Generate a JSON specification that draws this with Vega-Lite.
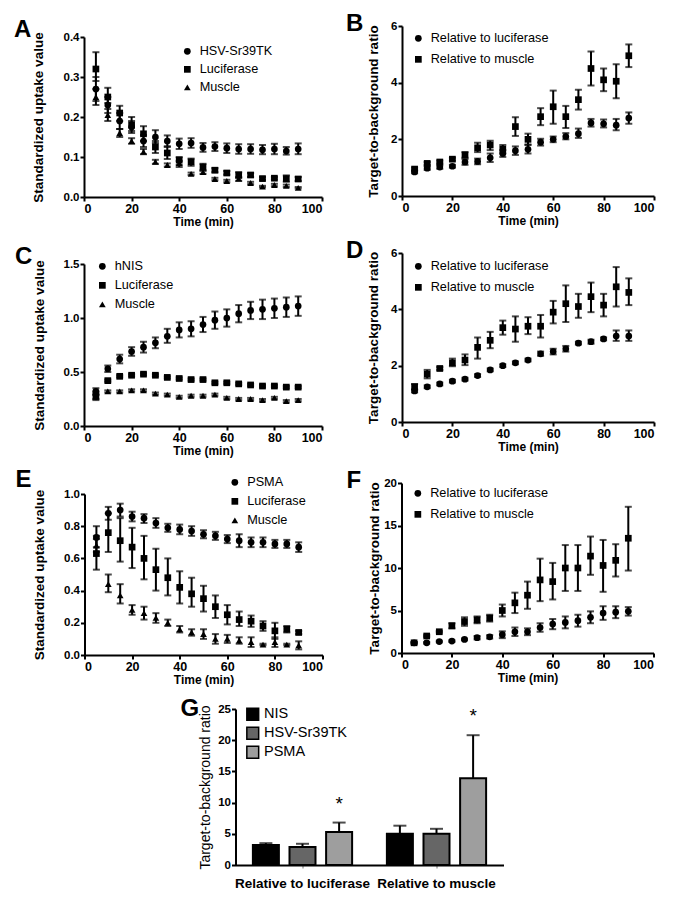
{
  "$schema": "https://vega.github.io/schema/vega-lite/v6.json",
  "background": "white",
  "padding": {"top": 12, "left": 14, "right": 5, "bottom": 5},
  "spacing": 11,
  "center": true,
  "resolve": {"scale": {"shape": "independent", "fill": "independent"}, "legend": {"shape": "independent", "fill": "independent"}},
  "datasets": {
    "A": [
      {"t":5,"s":"HSV-Sr39TK","v":0.27,"lo":0.24,"hi":0.30},{"t":10,"s":"HSV-Sr39TK","v":0.23,"lo":0.21,"hi":0.25},{"t":15,"s":"HSV-Sr39TK","v":0.19,"lo":0.17,"hi":0.21},{"t":20,"s":"HSV-Sr39TK","v":0.175,"lo":0.16,"hi":0.19},{"t":25,"s":"HSV-Sr39TK","v":0.14,"lo":0.125,"hi":0.155},{"t":30,"s":"HSV-Sr39TK","v":0.15,"lo":0.135,"hi":0.167},{"t":35,"s":"HSV-Sr39TK","v":0.14,"lo":0.127,"hi":0.154},{"t":40,"s":"HSV-Sr39TK","v":0.133,"lo":0.12,"hi":0.146},{"t":45,"s":"HSV-Sr39TK","v":0.135,"lo":0.123,"hi":0.147},{"t":50,"s":"HSV-Sr39TK","v":0.124,"lo":0.113,"hi":0.135},{"t":55,"s":"HSV-Sr39TK","v":0.126,"lo":0.115,"hi":0.137},{"t":60,"s":"HSV-Sr39TK","v":0.122,"lo":0.11,"hi":0.134},{"t":65,"s":"HSV-Sr39TK","v":0.12,"lo":0.108,"hi":0.132},{"t":70,"s":"HSV-Sr39TK","v":0.12,"lo":0.108,"hi":0.132},{"t":75,"s":"HSV-Sr39TK","v":0.118,"lo":0.107,"hi":0.13},{"t":80,"s":"HSV-Sr39TK","v":0.12,"lo":0.107,"hi":0.133},{"t":85,"s":"HSV-Sr39TK","v":0.115,"lo":0.106,"hi":0.125},{"t":90,"s":"HSV-Sr39TK","v":0.12,"lo":0.107,"hi":0.134},
      {"t":5,"s":"Luciferase","v":0.32,"lo":0.29,"hi":0.362},{"t":10,"s":"Luciferase","v":0.25,"lo":0.235,"hi":0.273},{"t":15,"s":"Luciferase","v":0.21,"lo":0.19,"hi":0.228},{"t":20,"s":"Luciferase","v":0.18,"lo":0.165,"hi":0.2},{"t":25,"s":"Luciferase","v":0.158,"lo":0.14,"hi":0.177},{"t":30,"s":"Luciferase","v":0.125,"lo":0.11,"hi":0.14},{"t":35,"s":"Luciferase","v":0.11,"lo":0.095,"hi":0.125},{"t":40,"s":"Luciferase","v":0.092,"lo":0.08,"hi":0.1},{"t":45,"s":"Luciferase","v":0.088,"lo":0.078,"hi":0.096},{"t":50,"s":"Luciferase","v":0.075,"lo":0.066,"hi":0.083},{"t":55,"s":"Luciferase","v":0.067,"lo":0.062,"hi":0.072},{"t":60,"s":"Luciferase","v":0.06,"lo":0.056,"hi":0.065},{"t":65,"s":"Luciferase","v":0.055,"lo":0.047,"hi":0.062},{"t":70,"s":"Luciferase","v":0.055,"lo":0.05,"hi":0.06},{"t":75,"s":"Luciferase","v":0.046,"lo":0.043,"hi":0.05},{"t":80,"s":"Luciferase","v":0.047,"lo":0.044,"hi":0.05},{"t":85,"s":"Luciferase","v":0.046,"lo":0.038,"hi":0.054},{"t":90,"s":"Luciferase","v":0.045,"lo":0.04,"hi":0.05},
      {"t":5,"s":"Muscle","v":0.25,"lo":0.23,"hi":0.27},{"t":10,"s":"Muscle","v":0.205,"lo":0.19,"hi":0.22},{"t":15,"s":"Muscle","v":0.16,"lo":0.15,"hi":0.17},{"t":20,"s":"Muscle","v":0.14,"lo":0.133,"hi":0.147},{"t":25,"s":"Muscle","v":0.113,"lo":0.107,"hi":0.12},{"t":30,"s":"Muscle","v":0.088,"lo":0.083,"hi":0.093},{"t":35,"s":"Muscle","v":0.08,"lo":0.076,"hi":0.084},{"t":40,"s":"Muscle","v":0.085,"lo":0.075,"hi":0.09},{"t":45,"s":"Muscle","v":0.058,"lo":0.055,"hi":0.061},{"t":50,"s":"Muscle","v":0.062,"lo":0.058,"hi":0.066},{"t":55,"s":"Muscle","v":0.045,"lo":0.042,"hi":0.048},{"t":60,"s":"Muscle","v":0.04,"lo":0.037,"hi":0.043},{"t":65,"s":"Muscle","v":0.046,"lo":0.04,"hi":0.05},{"t":70,"s":"Muscle","v":0.035,"lo":0.032,"hi":0.038},{"t":75,"s":"Muscle","v":0.026,"lo":0.024,"hi":0.028},{"t":80,"s":"Muscle","v":0.03,"lo":0.027,"hi":0.033},{"t":85,"s":"Muscle","v":0.028,"lo":0.025,"hi":0.031},{"t":90,"s":"Muscle","v":0.023,"lo":0.021,"hi":0.025}
    ],
    "B": [
      {"t":5,"s":"Relative to luciferase","v":0.85,"lo":0.8,"hi":0.9},{"t":10,"s":"Relative to luciferase","v":0.98,"lo":0.92,"hi":1.04},{"t":15,"s":"Relative to luciferase","v":1.02,"lo":0.96,"hi":1.08},{"t":20,"s":"Relative to luciferase","v":1.05,"lo":1.0,"hi":1.1},{"t":25,"s":"Relative to luciferase","v":1.2,"lo":1.1,"hi":1.3},{"t":30,"s":"Relative to luciferase","v":1.22,"lo":1.12,"hi":1.32},{"t":35,"s":"Relative to luciferase","v":1.35,"lo":1.2,"hi":1.5},{"t":40,"s":"Relative to luciferase","v":1.5,"lo":1.38,"hi":1.62},{"t":45,"s":"Relative to luciferase","v":1.6,"lo":1.45,"hi":1.75},{"t":50,"s":"Relative to luciferase","v":1.65,"lo":1.5,"hi":1.8},{"t":55,"s":"Relative to luciferase","v":1.9,"lo":1.78,"hi":2.02},{"t":60,"s":"Relative to luciferase","v":2.0,"lo":1.9,"hi":2.1},{"t":65,"s":"Relative to luciferase","v":2.1,"lo":2.0,"hi":2.22},{"t":70,"s":"Relative to luciferase","v":2.2,"lo":2.05,"hi":2.38},{"t":75,"s":"Relative to luciferase","v":2.58,"lo":2.45,"hi":2.72},{"t":80,"s":"Relative to luciferase","v":2.55,"lo":2.42,"hi":2.7},{"t":85,"s":"Relative to luciferase","v":2.5,"lo":2.32,"hi":2.72},{"t":90,"s":"Relative to luciferase","v":2.75,"lo":2.55,"hi":2.95},
      {"t":5,"s":"Relative to muscle","v":0.95,"lo":0.9,"hi":1.0},{"t":10,"s":"Relative to muscle","v":1.15,"lo":1.1,"hi":1.2},{"t":15,"s":"Relative to muscle","v":1.2,"lo":1.15,"hi":1.25},{"t":20,"s":"Relative to muscle","v":1.3,"lo":1.25,"hi":1.35},{"t":25,"s":"Relative to muscle","v":1.45,"lo":1.35,"hi":1.55},{"t":30,"s":"Relative to muscle","v":1.7,"lo":1.55,"hi":1.88},{"t":35,"s":"Relative to muscle","v":1.8,"lo":1.62,"hi":1.95},{"t":40,"s":"Relative to muscle","v":1.65,"lo":1.5,"hi":1.8},{"t":45,"s":"Relative to muscle","v":2.45,"lo":2.12,"hi":2.78},{"t":50,"s":"Relative to muscle","v":2.0,"lo":1.82,"hi":2.2},{"t":55,"s":"Relative to muscle","v":2.8,"lo":2.5,"hi":3.1},{"t":60,"s":"Relative to muscle","v":3.15,"lo":2.55,"hi":3.72},{"t":65,"s":"Relative to muscle","v":2.8,"lo":2.4,"hi":3.18},{"t":70,"s":"Relative to muscle","v":3.4,"lo":3.05,"hi":3.75},{"t":75,"s":"Relative to muscle","v":4.5,"lo":3.9,"hi":5.1},{"t":80,"s":"Relative to muscle","v":4.1,"lo":3.7,"hi":4.5},{"t":85,"s":"Relative to muscle","v":4.05,"lo":3.45,"hi":4.65},{"t":90,"s":"Relative to muscle","v":4.95,"lo":4.55,"hi":5.35}
    ],
    "C": [
      {"t":5,"s":"hNIS","v":0.32,"lo":0.29,"hi":0.35},{"t":10,"s":"hNIS","v":0.53,"lo":0.5,"hi":0.56},{"t":15,"s":"hNIS","v":0.62,"lo":0.58,"hi":0.66},{"t":20,"s":"hNIS","v":0.69,"lo":0.65,"hi":0.73},{"t":25,"s":"hNIS","v":0.73,"lo":0.68,"hi":0.78},{"t":30,"s":"hNIS","v":0.77,"lo":0.72,"hi":0.82},{"t":35,"s":"hNIS","v":0.83,"lo":0.77,"hi":0.9},{"t":40,"s":"hNIS","v":0.89,"lo":0.82,"hi":0.96},{"t":45,"s":"hNIS","v":0.9,"lo":0.83,"hi":0.97},{"t":50,"s":"hNIS","v":0.94,"lo":0.87,"hi":1.01},{"t":55,"s":"hNIS","v":0.98,"lo":0.9,"hi":1.06},{"t":60,"s":"hNIS","v":1.0,"lo":0.92,"hi":1.08},{"t":65,"s":"hNIS","v":1.04,"lo":0.96,"hi":1.12},{"t":70,"s":"hNIS","v":1.07,"lo":0.99,"hi":1.15},{"t":75,"s":"hNIS","v":1.08,"lo":0.99,"hi":1.17},{"t":80,"s":"hNIS","v":1.09,"lo":1.0,"hi":1.18},{"t":85,"s":"hNIS","v":1.1,"lo":1.01,"hi":1.19},{"t":90,"s":"hNIS","v":1.11,"lo":1.02,"hi":1.2},
      {"t":5,"s":"Luciferase","v":0.28,"lo":0.24,"hi":0.32},{"t":10,"s":"Luciferase","v":0.42,"lo":0.41,"hi":0.43},{"t":15,"s":"Luciferase","v":0.46,"lo":0.45,"hi":0.47},{"t":20,"s":"Luciferase","v":0.47,"lo":0.46,"hi":0.48},{"t":25,"s":"Luciferase","v":0.48,"lo":0.47,"hi":0.49},{"t":30,"s":"Luciferase","v":0.47,"lo":0.46,"hi":0.48},{"t":35,"s":"Luciferase","v":0.45,"lo":0.44,"hi":0.46},{"t":40,"s":"Luciferase","v":0.44,"lo":0.43,"hi":0.45},{"t":45,"s":"Luciferase","v":0.43,"lo":0.42,"hi":0.44},{"t":50,"s":"Luciferase","v":0.43,"lo":0.42,"hi":0.44},{"t":55,"s":"Luciferase","v":0.4,"lo":0.39,"hi":0.41},{"t":60,"s":"Luciferase","v":0.4,"lo":0.39,"hi":0.41},{"t":65,"s":"Luciferase","v":0.39,"lo":0.38,"hi":0.4},{"t":70,"s":"Luciferase","v":0.38,"lo":0.37,"hi":0.39},{"t":75,"s":"Luciferase","v":0.37,"lo":0.36,"hi":0.38},{"t":80,"s":"Luciferase","v":0.37,"lo":0.36,"hi":0.38},{"t":85,"s":"Luciferase","v":0.36,"lo":0.35,"hi":0.37},{"t":90,"s":"Luciferase","v":0.36,"lo":0.35,"hi":0.37},
      {"t":5,"s":"Muscle","v":0.27,"lo":0.25,"hi":0.29},{"t":10,"s":"Muscle","v":0.32,"lo":0.31,"hi":0.33},{"t":15,"s":"Muscle","v":0.32,"lo":0.31,"hi":0.33},{"t":20,"s":"Muscle","v":0.33,"lo":0.32,"hi":0.34},{"t":25,"s":"Muscle","v":0.33,"lo":0.32,"hi":0.34},{"t":30,"s":"Muscle","v":0.3,"lo":0.29,"hi":0.31},{"t":35,"s":"Muscle","v":0.29,"lo":0.28,"hi":0.3},{"t":40,"s":"Muscle","v":0.27,"lo":0.26,"hi":0.28},{"t":45,"s":"Muscle","v":0.28,"lo":0.27,"hi":0.29},{"t":50,"s":"Muscle","v":0.28,"lo":0.27,"hi":0.29},{"t":55,"s":"Muscle","v":0.29,"lo":0.28,"hi":0.3},{"t":60,"s":"Muscle","v":0.26,"lo":0.25,"hi":0.27},{"t":65,"s":"Muscle","v":0.25,"lo":0.24,"hi":0.26},{"t":70,"s":"Muscle","v":0.25,"lo":0.24,"hi":0.26},{"t":75,"s":"Muscle","v":0.24,"lo":0.23,"hi":0.25},{"t":80,"s":"Muscle","v":0.26,"lo":0.25,"hi":0.27},{"t":85,"s":"Muscle","v":0.23,"lo":0.22,"hi":0.24},{"t":90,"s":"Muscle","v":0.24,"lo":0.23,"hi":0.25}
    ],
    "D": [
      {"t":5,"s":"Relative to luciferase","v":1.1,"lo":1.05,"hi":1.15},{"t":10,"s":"Relative to luciferase","v":1.25,"lo":1.2,"hi":1.3},{"t":15,"s":"Relative to luciferase","v":1.35,"lo":1.3,"hi":1.4},{"t":20,"s":"Relative to luciferase","v":1.45,"lo":1.4,"hi":1.5},{"t":25,"s":"Relative to luciferase","v":1.52,"lo":1.47,"hi":1.57},{"t":30,"s":"Relative to luciferase","v":1.65,"lo":1.6,"hi":1.7},{"t":35,"s":"Relative to luciferase","v":1.85,"lo":1.8,"hi":1.9},{"t":40,"s":"Relative to luciferase","v":2.0,"lo":1.95,"hi":2.05},{"t":45,"s":"Relative to luciferase","v":2.1,"lo":2.05,"hi":2.15},{"t":50,"s":"Relative to luciferase","v":2.2,"lo":2.15,"hi":2.25},{"t":55,"s":"Relative to luciferase","v":2.42,"lo":2.35,"hi":2.5},{"t":60,"s":"Relative to luciferase","v":2.5,"lo":2.4,"hi":2.6},{"t":65,"s":"Relative to luciferase","v":2.6,"lo":2.5,"hi":2.7},{"t":70,"s":"Relative to luciferase","v":2.8,"lo":2.75,"hi":2.85},{"t":75,"s":"Relative to luciferase","v":2.85,"lo":2.78,"hi":2.92},{"t":80,"s":"Relative to luciferase","v":2.95,"lo":2.9,"hi":3.0},{"t":85,"s":"Relative to luciferase","v":3.05,"lo":2.88,"hi":3.25},{"t":90,"s":"Relative to luciferase","v":3.05,"lo":2.88,"hi":3.25},
      {"t":5,"s":"Relative to muscle","v":1.25,"lo":1.15,"hi":1.35},{"t":10,"s":"Relative to muscle","v":1.7,"lo":1.55,"hi":1.85},{"t":15,"s":"Relative to muscle","v":1.9,"lo":1.85,"hi":1.95},{"t":20,"s":"Relative to muscle","v":2.1,"lo":1.98,"hi":2.25},{"t":25,"s":"Relative to muscle","v":2.2,"lo":2.02,"hi":2.4},{"t":30,"s":"Relative to muscle","v":2.65,"lo":2.25,"hi":3.0},{"t":35,"s":"Relative to muscle","v":2.9,"lo":2.62,"hi":3.2},{"t":40,"s":"Relative to muscle","v":3.35,"lo":3.1,"hi":3.6},{"t":45,"s":"Relative to muscle","v":3.3,"lo":2.85,"hi":3.75},{"t":50,"s":"Relative to muscle","v":3.4,"lo":3.12,"hi":3.72},{"t":55,"s":"Relative to muscle","v":3.4,"lo":3.0,"hi":3.8},{"t":60,"s":"Relative to muscle","v":3.9,"lo":3.5,"hi":4.3},{"t":65,"s":"Relative to muscle","v":4.2,"lo":3.55,"hi":4.85},{"t":70,"s":"Relative to muscle","v":4.1,"lo":3.7,"hi":4.55},{"t":75,"s":"Relative to muscle","v":4.45,"lo":3.9,"hi":4.95},{"t":80,"s":"Relative to muscle","v":4.15,"lo":3.75,"hi":4.55},{"t":85,"s":"Relative to muscle","v":4.8,"lo":4.1,"hi":5.5},{"t":90,"s":"Relative to muscle","v":4.6,"lo":4.15,"hi":5.1}
    ],
    "E": [
      {"t":5,"s":"PSMA","v":0.73,"lo":0.67,"hi":0.8},{"t":10,"s":"PSMA","v":0.88,"lo":0.84,"hi":0.92},{"t":15,"s":"PSMA","v":0.9,"lo":0.86,"hi":0.94},{"t":20,"s":"PSMA","v":0.86,"lo":0.83,"hi":0.89},{"t":25,"s":"PSMA","v":0.85,"lo":0.82,"hi":0.875},{"t":30,"s":"PSMA","v":0.82,"lo":0.79,"hi":0.85},{"t":35,"s":"PSMA","v":0.79,"lo":0.765,"hi":0.815},{"t":40,"s":"PSMA","v":0.78,"lo":0.75,"hi":0.81},{"t":45,"s":"PSMA","v":0.77,"lo":0.74,"hi":0.8},{"t":50,"s":"PSMA","v":0.75,"lo":0.725,"hi":0.775},{"t":55,"s":"PSMA","v":0.74,"lo":0.715,"hi":0.765},{"t":60,"s":"PSMA","v":0.72,"lo":0.695,"hi":0.745},{"t":65,"s":"PSMA","v":0.71,"lo":0.67,"hi":0.75},{"t":70,"s":"PSMA","v":0.7,"lo":0.67,"hi":0.73},{"t":75,"s":"PSMA","v":0.7,"lo":0.67,"hi":0.73},{"t":80,"s":"PSMA","v":0.69,"lo":0.665,"hi":0.715},{"t":85,"s":"PSMA","v":0.69,"lo":0.665,"hi":0.715},{"t":90,"s":"PSMA","v":0.67,"lo":0.64,"hi":0.7},
      {"t":5,"s":"Luciferase","v":0.63,"lo":0.53,"hi":0.74},{"t":10,"s":"Luciferase","v":0.76,"lo":0.64,"hi":0.88},{"t":15,"s":"Luciferase","v":0.71,"lo":0.58,"hi":0.85},{"t":20,"s":"Luciferase","v":0.67,"lo":0.54,"hi":0.79},{"t":25,"s":"Luciferase","v":0.6,"lo":0.47,"hi":0.74},{"t":30,"s":"Luciferase","v":0.53,"lo":0.4,"hi":0.66},{"t":35,"s":"Luciferase","v":0.48,"lo":0.37,"hi":0.6},{"t":40,"s":"Luciferase","v":0.42,"lo":0.32,"hi":0.52},{"t":45,"s":"Luciferase","v":0.38,"lo":0.3,"hi":0.48},{"t":50,"s":"Luciferase","v":0.35,"lo":0.27,"hi":0.43},{"t":55,"s":"Luciferase","v":0.3,"lo":0.23,"hi":0.37},{"t":60,"s":"Luciferase","v":0.25,"lo":0.19,"hi":0.31},{"t":65,"s":"Luciferase","v":0.22,"lo":0.18,"hi":0.27},{"t":70,"s":"Luciferase","v":0.21,"lo":0.175,"hi":0.245},{"t":75,"s":"Luciferase","v":0.18,"lo":0.15,"hi":0.21},{"t":80,"s":"Luciferase","v":0.15,"lo":0.1,"hi":0.2},{"t":85,"s":"Luciferase","v":0.16,"lo":0.14,"hi":0.18},{"t":90,"s":"Luciferase","v":0.14,"lo":0.13,"hi":0.15},
      {"t":5,"s":"Muscle","v":0.68,"lo":0.64,"hi":0.72},{"t":10,"s":"Muscle","v":0.44,"lo":0.39,"hi":0.5},{"t":15,"s":"Muscle","v":0.37,"lo":0.32,"hi":0.44},{"t":20,"s":"Muscle","v":0.28,"lo":0.25,"hi":0.31},{"t":25,"s":"Muscle","v":0.26,"lo":0.22,"hi":0.3},{"t":30,"s":"Muscle","v":0.23,"lo":0.2,"hi":0.26},{"t":35,"s":"Muscle","v":0.2,"lo":0.18,"hi":0.22},{"t":40,"s":"Muscle","v":0.16,"lo":0.14,"hi":0.18},{"t":45,"s":"Muscle","v":0.14,"lo":0.12,"hi":0.16},{"t":50,"s":"Muscle","v":0.13,"lo":0.1,"hi":0.16},{"t":55,"s":"Muscle","v":0.1,"lo":0.07,"hi":0.13},{"t":60,"s":"Muscle","v":0.1,"lo":0.075,"hi":0.125},{"t":65,"s":"Muscle","v":0.09,"lo":0.07,"hi":0.11},{"t":70,"s":"Muscle","v":0.08,"lo":0.05,"hi":0.11},{"t":75,"s":"Muscle","v":0.065,"lo":0.06,"hi":0.07},{"t":80,"s":"Muscle","v":0.08,"lo":0.05,"hi":0.11},{"t":85,"s":"Muscle","v":0.065,"lo":0.06,"hi":0.07},{"t":90,"s":"Muscle","v":0.06,"lo":0.035,"hi":0.085}
    ],
    "F": [
      {"t":5,"s":"Relative to luciferase","v":1.2,"lo":1.1,"hi":1.3},{"t":10,"s":"Relative to luciferase","v":1.2,"lo":1.1,"hi":1.3},{"t":15,"s":"Relative to luciferase","v":1.35,"lo":1.25,"hi":1.45},{"t":20,"s":"Relative to luciferase","v":1.4,"lo":1.3,"hi":1.5},{"t":25,"s":"Relative to luciferase","v":1.6,"lo":1.5,"hi":1.7},{"t":30,"s":"Relative to luciferase","v":1.8,"lo":1.6,"hi":2.0},{"t":35,"s":"Relative to luciferase","v":1.9,"lo":1.7,"hi":2.1},{"t":40,"s":"Relative to luciferase","v":2.15,"lo":1.75,"hi":2.55},{"t":45,"s":"Relative to luciferase","v":2.5,"lo":2.0,"hi":3.0},{"t":50,"s":"Relative to luciferase","v":2.5,"lo":2.1,"hi":2.9},{"t":55,"s":"Relative to luciferase","v":3.0,"lo":2.5,"hi":3.5},{"t":60,"s":"Relative to luciferase","v":3.4,"lo":2.8,"hi":4.0},{"t":65,"s":"Relative to luciferase","v":3.6,"lo":2.9,"hi":4.3},{"t":70,"s":"Relative to luciferase","v":3.8,"lo":3.1,"hi":4.5},{"t":75,"s":"Relative to luciferase","v":4.2,"lo":3.5,"hi":4.9},{"t":80,"s":"Relative to luciferase","v":4.7,"lo":3.9,"hi":5.5},{"t":85,"s":"Relative to luciferase","v":4.8,"lo":4.1,"hi":5.5},{"t":90,"s":"Relative to luciferase","v":4.9,"lo":4.4,"hi":5.4},
      {"t":5,"s":"Relative to muscle","v":1.2,"lo":1.1,"hi":1.3},{"t":10,"s":"Relative to muscle","v":2.0,"lo":1.9,"hi":2.1},{"t":15,"s":"Relative to muscle","v":2.5,"lo":2.4,"hi":2.6},{"t":20,"s":"Relative to muscle","v":3.2,"lo":2.9,"hi":3.5},{"t":25,"s":"Relative to muscle","v":3.7,"lo":3.2,"hi":4.2},{"t":30,"s":"Relative to muscle","v":3.9,"lo":3.5,"hi":4.3},{"t":35,"s":"Relative to muscle","v":4.1,"lo":3.7,"hi":4.5},{"t":40,"s":"Relative to muscle","v":5.0,"lo":4.3,"hi":5.7},{"t":45,"s":"Relative to muscle","v":5.9,"lo":4.7,"hi":7.1},{"t":50,"s":"Relative to muscle","v":6.8,"lo":5.2,"hi":8.4},{"t":55,"s":"Relative to muscle","v":8.6,"lo":6.1,"hi":11.1},{"t":60,"s":"Relative to muscle","v":8.4,"lo":6.3,"hi":10.6},{"t":65,"s":"Relative to muscle","v":10.0,"lo":7.3,"hi":12.7},{"t":70,"s":"Relative to muscle","v":10.0,"lo":7.3,"hi":12.7},{"t":75,"s":"Relative to muscle","v":11.4,"lo":9.2,"hi":13.7},{"t":80,"s":"Relative to muscle","v":10.3,"lo":7.2,"hi":13.3},{"t":85,"s":"Relative to muscle","v":10.9,"lo":9.0,"hi":12.8},{"t":90,"s":"Relative to muscle","v":13.5,"lo":9.7,"hi":17.2}
    ],
    "G": [
      {"grp":"Relative to luciferase","gene":"NIS","v":3.2,"hi":3.5,"star":""},
      {"grp":"Relative to luciferase","gene":"HSV-Sr39TK","v":2.9,"hi":3.4,"star":""},
      {"grp":"Relative to luciferase","gene":"PSMA","v":5.3,"hi":6.8,"star":"*"},
      {"grp":"Relative to muscle","gene":"NIS","v":5.0,"hi":6.3,"star":""},
      {"grp":"Relative to muscle","gene":"HSV-Sr39TK","v":5.0,"hi":5.8,"star":""},
      {"grp":"Relative to muscle","gene":"PSMA","v":13.9,"hi":20.8,"star":"*"}
    ]
  },
  "vconcat": [
    {
      "spacing": 23,
      "resolve": {"scale": {"shape": "independent"}, "legend": {"shape": "independent"}},
      "hconcat": [
        {
          "title": {"text": "A", "dx": -70, "offset": -16},
          "width": 238, "height": 171,
          "data": {"name": "A"},
          "encoding": {"x": {"field": "t", "type": "quantitative", "scale": {"domain": [0, 100], "nice": false}, "axis": {"values": [0, 20, 40, 60, 80, 100], "title": "Time (min)"}}},
          "layer": [
            {"mark": {"type": "errorbar", "ticks": {"size": 7, "thickness": 2}, "thickness": 2, "color": "black"},
             "encoding": {"y": {"field": "lo", "type": "quantitative", "scale": {"domain": [0, 0.4], "nice": false, "range": [171, 11]}, "axis": {"title": "Standardized uptake value", "values": [0, 0.1, 0.2, 0.3, 0.4], "format": ".1f", "titlePadding": 18}}, "y2": {"field": "hi"}}},
            {"mark": {"type": "point", "filled": true, "opacity": 1, "color": "black", "size": 45},
             "encoding": {"y": {"field": "v", "type": "quantitative", "axis": {"title": "Standardized uptake value", "values": [0, 0.1, 0.2, 0.3, 0.4], "format": ".1f", "titlePadding": 18}},
               "shape": {"field": "s", "type": "nominal", "scale": {"domain": ["HSV-Sr39TK", "Luciferase", "Muscle"], "range": ["circle", "square", "triangle-up"]}, "legend": {"orient": "none", "legendX": 97, "legendY": 19, "title": null, "rowPadding": 4}}}}
          ]
        },
        {
          "title": {"text": "B", "dx": -56, "offset": -16},
          "width": 252, "height": 170,
          "data": {"name": "B"},
          "encoding": {"x": {"field": "t", "type": "quantitative", "scale": {"domain": [0, 100], "nice": false}, "axis": {"values": [0, 20, 40, 60, 80, 100], "title": "Time (min)"}}},
          "layer": [
            {"mark": {"type": "errorbar", "ticks": {"size": 7, "thickness": 2}, "thickness": 2, "color": "black"},
             "encoding": {"y": {"field": "lo", "type": "quantitative", "scale": {"domain": [0, 6], "nice": false}, "axis": {"title": "Target-to-background ratio", "values": [0, 2, 4, 6], "titlePadding": 10}}, "y2": {"field": "hi"}}},
            {"mark": {"type": "point", "filled": true, "opacity": 1, "color": "black", "size": 45},
             "encoding": {"y": {"field": "v", "type": "quantitative", "axis": {"title": "Target-to-background ratio", "values": [0, 2, 4, 6], "titlePadding": 10}},
               "shape": {"field": "s", "type": "nominal", "scale": {"domain": ["Relative to luciferase", "Relative to muscle"], "range": ["circle", "square"]}, "legend": {"orient": "none", "legendX": 10, "legendY": 6, "title": null, "rowPadding": 7}}}}
          ]
        }
      ]
    },
    {
      "spacing": 23,
      "resolve": {"scale": {"shape": "independent"}, "legend": {"shape": "independent"}},
      "hconcat": [
        {
          "title": {"text": "C", "dx": -69, "offset": -16},
          "width": 238, "height": 173,
          "data": {"name": "C"},
          "encoding": {"x": {"field": "t", "type": "quantitative", "scale": {"domain": [0, 100], "nice": false}, "axis": {"values": [0, 20, 40, 60, 80, 100], "title": "Time (min)"}}},
          "layer": [
            {"mark": {"type": "errorbar", "ticks": {"size": 7, "thickness": 2}, "thickness": 2, "color": "black"},
             "encoding": {"y": {"field": "lo", "type": "quantitative", "scale": {"domain": [0, 1.5], "nice": false, "range": [173, 11]}, "axis": {"title": "Standardized uptake value", "values": [0, 0.5, 1.0, 1.5], "format": ".1f", "titlePadding": 17}}, "y2": {"field": "hi"}}},
            {"mark": {"type": "point", "filled": true, "opacity": 1, "color": "black", "size": 45},
             "encoding": {"y": {"field": "v", "type": "quantitative", "axis": {"title": "Standardized uptake value", "values": [0, 0.5, 1.0, 1.5], "format": ".1f", "titlePadding": 17}},
               "shape": {"field": "s", "type": "nominal", "scale": {"domain": ["hNIS", "Luciferase", "Muscle"], "range": ["circle", "square", "triangle-up"]}, "legend": {"orient": "none", "legendX": 12, "legendY": 7, "title": null, "rowPadding": 5}}}}
          ]
        },
        {
          "title": {"text": "D", "dx": -56, "offset": -16},
          "width": 252, "height": 169,
          "data": {"name": "D"},
          "encoding": {"x": {"field": "t", "type": "quantitative", "scale": {"domain": [0, 100], "nice": false}, "axis": {"values": [0, 20, 40, 60, 80, 100], "title": "Time (min)"}}},
          "layer": [
            {"mark": {"type": "errorbar", "ticks": {"size": 7, "thickness": 2}, "thickness": 2, "color": "black"},
             "encoding": {"y": {"field": "lo", "type": "quantitative", "scale": {"domain": [0, 6], "nice": false}, "axis": {"title": "Target-to-background ratio", "values": [0, 2, 4, 6], "titlePadding": 10}}, "y2": {"field": "hi"}}},
            {"mark": {"type": "point", "filled": true, "opacity": 1, "color": "black", "size": 45},
             "encoding": {"y": {"field": "v", "type": "quantitative", "axis": {"title": "Target-to-background ratio", "values": [0, 2, 4, 6], "titlePadding": 10}},
               "shape": {"field": "s", "type": "nominal", "scale": {"domain": ["Relative to luciferase", "Relative to muscle"], "range": ["circle", "square"]}, "legend": {"orient": "none", "legendX": 10, "legendY": 7, "title": null, "rowPadding": 7}}}}
          ]
        }
      ]
    },
    {
      "spacing": 23,
      "resolve": {"scale": {"shape": "independent"}, "legend": {"shape": "independent"}},
      "hconcat": [
        {
          "title": {"text": "E", "dx": -69, "offset": -16},
          "width": 238, "height": 172,
          "data": {"name": "E"},
          "encoding": {"x": {"field": "t", "type": "quantitative", "scale": {"domain": [0, 100], "nice": false}, "axis": {"values": [0, 20, 40, 60, 80, 100], "title": "Time (min)"}}},
          "layer": [
            {"mark": {"type": "errorbar", "ticks": {"size": 7, "thickness": 2}, "thickness": 2, "color": "black"},
             "encoding": {"y": {"field": "lo", "type": "quantitative", "scale": {"domain": [0, 1], "nice": false, "range": [172, 11]}, "axis": {"title": "Standardized uptake value", "values": [0, 0.2, 0.4, 0.6, 0.8, 1.0], "format": ".1f", "titlePadding": 17}}, "y2": {"field": "hi"}}},
            {"mark": {"type": "point", "filled": true, "opacity": 1, "color": "black", "size": 45},
             "encoding": {"y": {"field": "v", "type": "quantitative", "axis": {"title": "Standardized uptake value", "values": [0, 0.2, 0.4, 0.6, 0.8, 1.0], "format": ".1f", "titlePadding": 17}},
               "shape": {"field": "s", "type": "nominal", "scale": {"domain": ["PSMA", "Luciferase", "Muscle"], "range": ["circle", "square", "triangle-up"]}, "legend": {"orient": "none", "legendX": 144, "legendY": -7, "title": null}}}}
          ]
        },
        {
          "title": {"text": "F", "dx": -55, "offset": -16},
          "width": 252, "height": 170,
          "data": {"name": "F"},
          "encoding": {"x": {"field": "t", "type": "quantitative", "scale": {"domain": [0, 100], "nice": false}, "axis": {"values": [0, 20, 40, 60, 80, 100], "title": "Time (min)"}}},
          "layer": [
            {"mark": {"type": "errorbar", "ticks": {"size": 7, "thickness": 2}, "thickness": 2, "color": "black"},
             "encoding": {"y": {"field": "lo", "type": "quantitative", "scale": {"domain": [0, 20], "nice": false}, "axis": {"title": "Target-to-background ratio", "values": [0, 5, 10, 15, 20], "titlePadding": 2}}, "y2": {"field": "hi"}}},
            {"mark": {"type": "point", "filled": true, "opacity": 1, "color": "black", "size": 45},
             "encoding": {"y": {"field": "v", "type": "quantitative", "axis": {"title": "Target-to-background ratio", "values": [0, 5, 10, 15, 20], "titlePadding": 2}},
               "shape": {"field": "s", "type": "nominal", "scale": {"domain": ["Relative to luciferase", "Relative to muscle"], "range": ["circle", "square"]}, "legend": {"orient": "none", "legendX": 10, "legendY": 4, "title": null, "rowPadding": 7}}}}
          ]
        }
      ]
    },
    {
      "title": {"text": "G", "dx": -55, "offset": -18},
      "width": 268, "height": 156,
      "data": {"name": "G"},
      "encoding": {
        "x": {"field": "grp", "type": "nominal", "scale": {"domain": ["Relative to luciferase", "Relative to muscle"], "paddingInner": 0, "paddingOuter": 0}, "axis": {"title": null, "labelAngle": 0, "labelFontSize": 13.5, "labelPadding": 8, "tickSize": 3, "tickWidth": 1, "tickColor": "#777777"}},
        "xOffset": {"field": "gene", "type": "nominal", "scale": {"domain": ["NIS", "HSV-Sr39TK", "PSMA"], "paddingInner": 0.28, "paddingOuter": 0.47}}
      },
      "layer": [
        {"mark": {"type": "rule", "color": "black", "strokeWidth": 2},
         "encoding": {"y": {"field": "v", "type": "quantitative", "scale": {"domain": [0, 25], "nice": false}, "axis": {"title": "Target-to-background ratio", "titleFontWeight": "normal", "titleFontSize": 14, "titlePadding": 5, "values": [0, 5, 10, 15, 20, 25], "labelOverlap": false}}, "y2": {"field": "hi"}}},
        {"mark": {"type": "tick", "color": "black", "thickness": 2, "size": 13},
         "encoding": {"y": {"field": "hi", "type": "quantitative", "axis": {"title": "Target-to-background ratio", "titleFontWeight": "normal", "titleFontSize": 14, "titlePadding": 5, "values": [0, 5, 10, 15, 20, 25], "labelOverlap": false}}}},
        {"mark": {"type": "bar", "stroke": "black", "strokeWidth": 2, "width": 26},
         "encoding": {"y": {"field": "v", "type": "quantitative", "stack": null, "axis": {"title": "Target-to-background ratio", "titleFontWeight": "normal", "titleFontSize": 14, "titlePadding": 5, "values": [0, 5, 10, 15, 20, 25], "labelOverlap": false}},
           "fill": {"field": "gene", "type": "nominal", "scale": {"domain": ["NIS", "HSV-Sr39TK", "PSMA"], "range": ["#000000", "#666666", "#9e9e9e"]},
             "legend": {"orient": "none", "legendX": 10, "legendY": -2, "title": null, "symbolType": "square", "symbolSize": 140, "symbolStrokeColor": "black", "symbolStrokeWidth": 1.5, "labelFontSize": 14.5, "rowPadding": 0, "labelOffset": 4}}}},
        {"mark": {"type": "text", "dy": -19, "fontSize": 19, "baseline": "middle", "color": "black"},
         "encoding": {"y": {"field": "hi", "type": "quantitative", "axis": {"title": "Target-to-background ratio", "titleFontWeight": "normal", "titleFontSize": 14, "titlePadding": 5, "values": [0, 5, 10, 15, 20, 25], "labelOverlap": false}}, "text": {"field": "star"}}}
      ]
    }
  ],
  "config": {
    "font": "Liberation Sans",
    "view": {"stroke": null},
    "axis": {"domainColor": "black", "domainWidth": 2, "tickColor": "black", "tickWidth": 2, "tickSize": 4, "labelColor": "black", "labelFont": "Liberation Sans", "labelFontWeight": "bold", "labelFontSize": 11.5, "labelPadding": 1, "titleColor": "black", "titleFont": "Liberation Sans", "titleFontWeight": "bold", "titleFontSize": 13.5, "grid": false},
    "axisX": {"labelFontSize": 12.5, "titleFontSize": 12, "titlePadding": 2},
    "legend": {"labelFont": "Liberation Sans", "labelFontSize": 12.7, "labelColor": "black", "rowPadding": 5, "symbolSize": 45, "padding": 0, "labelOffset": 6, "symbolStrokeWidth": 0},
    "title": {"font": "Liberation Sans", "fontSize": 24, "fontWeight": "bold", "color": "black", "anchor": "start", "frame": "group"}
  }
}
